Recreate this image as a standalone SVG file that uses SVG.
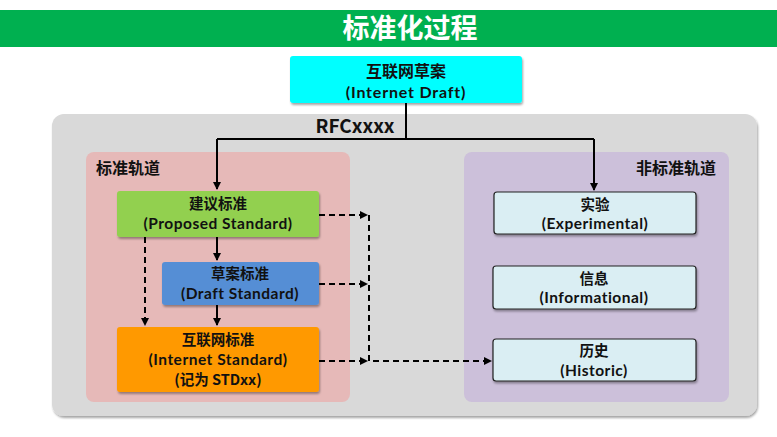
<svg xmlns="http://www.w3.org/2000/svg" width="777" height="437" viewBox="0 0 777 437">
<defs>
<style>
text{font-family:"Noto Sans CJK SC","Noto Sans",sans-serif;font-weight:bold;fill:#111;text-anchor:middle}
.e{font-family:Lato,"Noto Sans",sans-serif;letter-spacing:0.5px}
.t{fill:#fff;font-size:27px}
.n{font-size:14.5px}
.m{font-size:15.5px}
.lbl{font-size:16px}
.solid{stroke:#000;stroke-width:2;fill:none}
.dash{stroke:#000;stroke-width:2;fill:none;stroke-dasharray:6 4}
.sh{filter:url(#sh)}
.light{fill:#DAEEF3;stroke:#222;stroke-width:1.2}
</style>
<filter id="sh" x="-10%" y="-10%" width="130%" height="140%">
<feDropShadow dx="1" dy="2" stdDeviation="1.2" flood-color="#000" flood-opacity="0.35"/>
</filter>
<marker id="ar" markerWidth="8" markerHeight="8" refX="7" refY="4" orient="auto" markerUnits="userSpaceOnUse">
<path d="M0,0 L8,4 L0,8 Z" fill="#000"/>
</marker>
</defs>
<rect width="777" height="437" fill="#fff"/>
<g id="title">
<rect x="0" y="10" width="777" height="37" fill="#00B050"/>
<text class="t" x="410" y="38">标准化过程</text>
</g>
<g id="bg">
<rect x="52" y="114" width="705" height="302" rx="12" fill="#D9D9D9" class="sh"/>
<rect x="86" y="152" width="264" height="250" rx="8" fill="#E6B9B8"/>
<text class="lbl" x="96" y="174" style="text-anchor:start">标准轨道</text>
<rect x="464" y="152" width="265" height="250" rx="8" fill="#CCC0DA"/>
<text class="lbl" x="716" y="174" style="text-anchor:end">非标准轨道</text>
<text x="355" y="133" style="font-size:19px">RFCxxxx</text>
</g>
<g id="connectors">
<path class="solid" d="M406,103 V139 M217,139 H594"/>
<path class="solid" d="M217,139 V189" marker-end="url(#ar)"/>
<path class="solid" d="M594,139 V190" marker-end="url(#ar)"/>
<path class="solid" d="M217,237 V260" marker-end="url(#ar)"/>
<path class="solid" d="M217,305 V325" marker-end="url(#ar)"/>
<path class="dash" d="M145,237 V325" marker-end="url(#ar)"/>
<path class="dash" d="M319,215 H367" marker-end="url(#ar)"/>
<path class="dash" d="M319,284 H367" marker-end="url(#ar)"/>
<path class="dash" d="M319,361 H367" marker-end="url(#ar)"/>
<path class="dash" d="M369,215 V361 H491" marker-end="url(#ar)"/>
</g>
<g id="internet-draft">
<rect x="290" y="56" width="232" height="47" rx="3" fill="#00FFFF" class="sh"/>
<text class="lbl" x="406" y="77">互联网草案</text>
<text class="lbl e" x="406" y="97.5" style="letter-spacing:0.8px">(Internet Draft)</text>
</g>
<g id="proposed">
<rect x="117" y="191" width="202" height="46" rx="3" fill="#92D050" class="sh"/>
<text class="n" x="218" y="209">建议标准</text>
<text class="m e" x="218" y="228.5">(Proposed Standard)</text>
</g>
<g id="draft-standard">
<rect x="162" y="262" width="157" height="43" rx="3" fill="#558ED5" class="sh"/>
<text class="n" x="240" y="279">草案标准</text>
<text class="m e" x="240" y="298.5">(Draft Standard)</text>
</g>
<g id="internet-standard">
<rect x="117" y="327" width="202" height="65" rx="3" fill="#FF9900" class="sh"/>
<text class="n" x="218" y="345">互联网标准</text>
<text class="m e" x="218" y="364.5">(Internet Standard)</text>
<text class="n" x="218" y="384.5">(记为 STDxx)</text>
</g>
<g id="experimental">
<rect x="494" y="192" width="202" height="42" rx="3" class="light sh"/>
<text class="n" x="595" y="209.5">实验</text>
<text class="m e" x="595" y="229">(Experimental)</text>
</g>
<g id="informational">
<rect x="493" y="266" width="203" height="43" rx="3" class="light sh"/>
<text class="n" x="594" y="283.5">信息</text>
<text class="m e" x="594" y="303">(Informational)</text>
</g>
<g id="historic">
<rect x="493" y="339" width="203" height="42" rx="3" class="light sh"/>
<text class="n" x="594" y="356">历史</text>
<text class="m e" x="594" y="375.5">(Historic)</text>
</g>
</svg>
